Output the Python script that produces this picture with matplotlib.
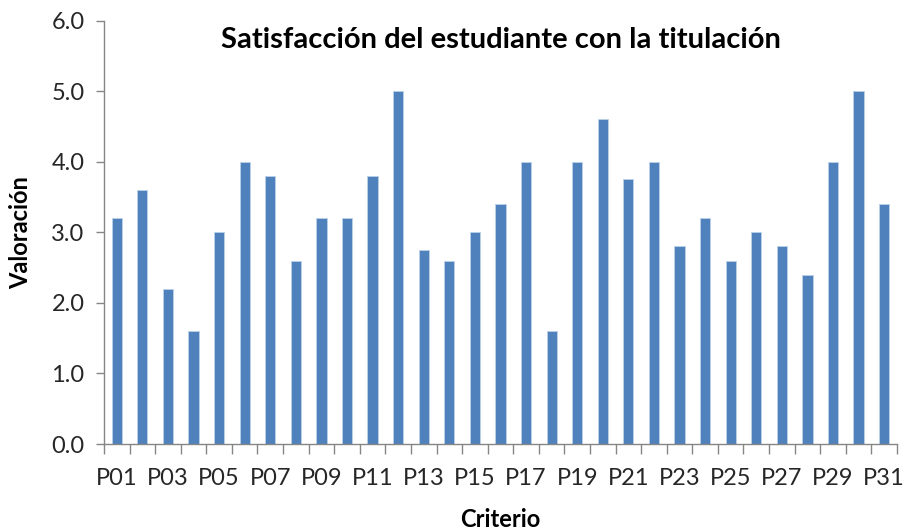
import matplotlib.pyplot as plt
import numpy as np

criterios = ['P%02d' % i for i in range(1, 32)]
valoracion = [3.2, 3.6, 2.2, 1.6, 3.0, 4.0, 3.8, 2.6, 3.2, 3.2, 3.8, 5.0, 2.75, 2.6,
              3.0, 3.4, 4.0, 1.6, 4.0, 4.6, 3.75, 4.0, 2.8, 3.2, 2.6, 3.0, 2.8, 2.4,
              4.0, 5.0, 3.4]

plt.rcParams['font.family'] = ['Lato', 'DejaVu Sans']

fig = plt.figure(figsize=(9.06, 5.31), dpi=100)
ax = fig.add_axes([0.1148, 0.1638, 0.8752, 0.7972])

x = np.arange(len(criterios))
ax.bar(x, valoracion, width=0.4, color='#4F81BD', edgecolor='#BCD0E8', linewidth=0.6)

ax.set_xlim(-0.5, len(criterios) - 0.5)
ax.set_ylim(0, 6)
ax.set_yticks(np.arange(0, 6.1, 1.0))
ax.set_yticklabels(['%.1f' % v for v in np.arange(0, 6.1, 1.0)])

# tick marks between categories, labels on every other category
ax.set_xticks(np.arange(-0.5, len(criterios), 1.0))
ax.set_xticklabels([])
ax.set_xticks(x[::2], minor=True)
ax.set_xticklabels(criterios[::2], minor=True)
ax.tick_params(axis='x', which='major', length=7, color='#868686', width=1)
ax.tick_params(axis='x', which='minor', length=0, pad=17, labelsize=17, labelcolor='#262626')
ax.tick_params(axis='y', length=6, color='#868686', width=1, labelsize=17, labelcolor='#262626', pad=8)

for side in ['top', 'right']:
    ax.spines[side].set_visible(False)
for side in ['left', 'bottom']:
    ax.spines[side].set_color('#868686')
    ax.spines[side].set_linewidth(1)

ax.text(0.5, 0.954, 'Satisfacción del estudiante con la titulación', transform=ax.transAxes,
        ha='center', va='center', fontsize=21, fontweight='bold')
ax.set_ylabel('Valoración', fontsize=17, fontweight='bold', labelpad=14)
ax.set_xlabel('Criterio', fontsize=17, fontweight='bold', labelpad=14)

fig.savefig('out.png', dpi=100)
